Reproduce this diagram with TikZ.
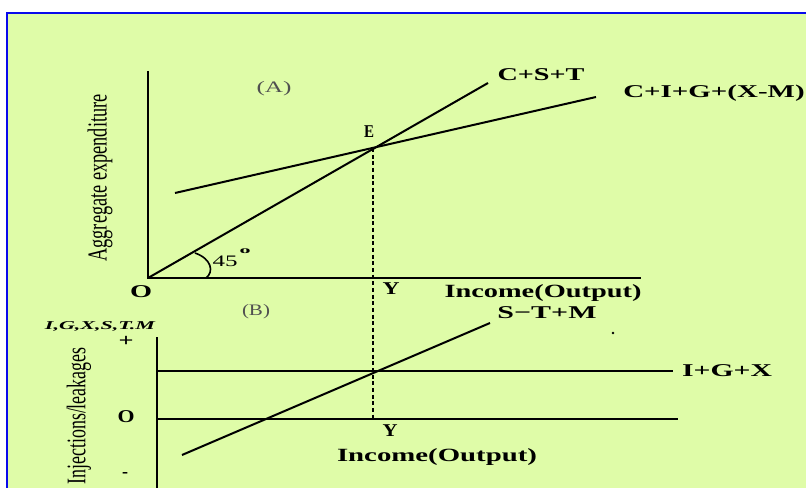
\documentclass[tikz,border=0pt]{standalone}
\usepackage{fontspec}
\usepackage{graphicx}
\setmainfont{Liberation Serif}
\definecolor{bgreen}{RGB}{223,252,168}
\definecolor{bblue}{RGB}{10,10,235}
\definecolor{lgray}{RGB}{80,80,80}
\newcommand{\wbox}[2]{\resizebox{#1}{\height}{#2}}
\begin{document}
\begin{tikzpicture}[x=0.75pt,y=-0.75pt,
  lbl/.style={inner sep=0pt,font=\fontsize{13.5}{15}\selectfont\bfseries},
  big/.style={inner sep=0pt,font=\fontsize{14}{16}\selectfont\bfseries},
  axis/.style={line width=2.2pt},
  curve/.style={line width=1.5pt},
  guide/.style={line width=1.1pt,dash pattern=on 3pt off 2pt}]
\useasboundingbox (0,0) rectangle (806,488);
\fill[white] (0,0) rectangle (806,488);
\fill[bgreen] (7,13) rectangle (806,488);
\draw[bblue,line width=1.6pt] (7,488) -- (7,13) -- (806,13);

% panel A
\coordinate (ytop) at (148,71);
\coordinate (o1) at (148,278);
\coordinate (xend) at (641,278);
\coordinate (cstend) at (488,83);
\coordinate (cig0) at (175,193);
\coordinate (cig1) at (596,97);
\coordinate (e) at (373,148);
\coordinate (arcA) at (195,253);
\coordinate (arcB) at (206,278);
\draw[axis] (ytop) -- (o1) -- (xend);
\draw[curve] (o1) -- (cstend);
\draw[curve] (cig0) -- (cig1);
\draw[line width=1.2pt] (arcA) .. controls (212,259) and (214,272) .. (arcB);

\node[lbl] (cst) at (541,75) {\wbox{65.25pt}{C+S+T}};
\node[lbl,anchor=west] (cig) at (623,93) {\wbox{136pt}{C+I+G+(X-M)}};
\node[lbl] (E) at (369,132) {\wbox{7.5pt}{E}};
\node[lbl] (O) at (141,292) {\wbox{16.5pt}{O}};
\node[lbl] (Y1) at (391,289) {\wbox{12.75pt}{Y}};
\node[big] (inc1) at (543,293) {\wbox{147.75pt}{Income(Output)}};
\node[inner sep=0pt,text=lgray,font=\fontsize{12}{13}\selectfont] (A) at (274,89) {\wbox{26.25pt}{(A)}};
\node[inner sep=0pt,font=\fontsize{12}{13}\selectfont] (d45) at (225,261) {\wbox{18.75pt}{45}};
\node[inner sep=0pt,font=\fontsize{7.5}{8}\selectfont\bfseries] (deg) at (245,251) {\wbox{8.25pt}{o}};
\node[inner sep=0pt,rotate=90,font=\fontsize{13.5}{15}\selectfont] (agg) at (100,178)
  {\scalebox{1}[1.5]{\resizebox{125.25pt}{!}{Aggregate expenditure}}};

% panel B
\coordinate (ytop2) at (157,337);
\coordinate (ybot2) at (157,490);
\coordinate (igx0) at (157,371);
\coordinate (igx1) at (673,371);
\coordinate (z0) at (157,419);
\coordinate (z1) at (678,419);
\coordinate (stm0) at (182,455);
\coordinate (stm1) at (490,323);
\coordinate (yb) at (373,419);
\draw[axis] (ytop2) -- (ybot2);
\draw[curve] (igx0) -- (igx1);
\draw[curve] (z0) -- (z1);
\draw[curve] (stm0) -- (stm1);
\draw[guide] (e) -- (yb);
\fill (613,333) circle (1.4);

\node[inner sep=0pt,text=lgray,font=\fontsize{12}{13}\selectfont] (B) at (256,312) {\wbox{21pt}{(B)}};
\node[lbl] (stm) at (547,313) {\wbox{74.25pt}{S−T+M}};
\node[lbl] (igx) at (727,371) {\wbox{67.5pt}{I+G+X}};
\node[lbl] (Y2) at (390,431) {\wbox{11.25pt}{Y}};
\node[big] (inc2) at (437,457) {\wbox{150pt}{Income(Output)}};
\node[inner sep=0pt,font=\fontsize{9}{10}\selectfont\bfseries\itshape] (vars) at (100,326) {\wbox{82.5pt}{I,G,X,S,T.M}};
\node[lbl] (plus) at (126,341) {\wbox{11.25pt}{+}};
\node[lbl] (zero) at (126,417) {\wbox{12.75pt}{O}};
\node[lbl] (minus) at (125,475) {\wbox{4.5pt}{-}};
\node[inner sep=0pt,rotate=90,font=\fontsize{13.5}{15}\selectfont] (inj) at (79,416)
  {\scalebox{1}[1.5]{\resizebox{103pt}{!}{Injections/leakages}}};
\end{tikzpicture}
\end{document}
